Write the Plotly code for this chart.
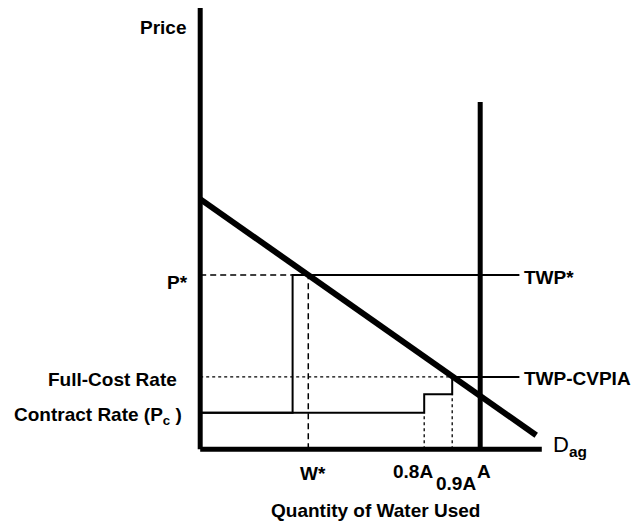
import plotly.graph_objects as go

# economic quantities (A = 100 units of water, price axis 0-100)
q_labels = ['W*', '0.8A', '0.9A', 'A']
q_values = [38.6, 80, 90, 100]

p_labels = ['P*', 'Full-Cost Rate', 'Contract Rate (P<sub>c</sub> )']
p_values = [39.5, 16.4, 8.3]

step_price = 12.5          # middle tier of the tiered contract schedule
twp_kink_q = 33            # where the TWP* schedule jumps from contract rate to P*
schedule_end_q = 114
cap_top_p = 78.7           # height of the vertical line at A

demand_q = [0, 120]
demand_p = [56.7, 3.2]

axis_max_q = 122
axis_max_p = 100

FONT = 'Liberation Sans, Arial, sans-serif'

p_star, p_full, p_contract = p_values
q_wstar, q_08, q_09, q_a = q_values

fig = go.Figure()


def add_line(xs, ys, width=2, dash='solid'):
    fig.add_trace(go.Scatter(x=xs, y=ys, mode='lines', hoverinfo='skip',
                             line={'color': 'black', 'width': width, 'dash': dash}))


# axes
add_line([0, 0], [0, axis_max_p], width=5)
add_line([0, axis_max_q], [0, 0], width=5)

# guide lines
add_line([0, twp_kink_q], [p_star, p_star], width=1.5, dash='6px,4px')
add_line([q_wstar, q_wstar], [0, p_star], width=1.5, dash='6px,4px')
add_line([0, q_09], [p_full, p_full], width=1.3, dash='dot')
add_line([q_08, q_08], [0, p_contract], width=1.3, dash='dot')
add_line([q_09, q_09], [0, step_price], width=1.3, dash='dot')

# price schedules
add_line([0, twp_kink_q, twp_kink_q, schedule_end_q], [p_contract, p_contract, p_star, p_star], width=2)
add_line([0, q_08, q_08, q_09, q_09, schedule_end_q],
         [p_contract, p_contract, step_price, step_price, p_full, p_full], width=2)

# supply limit at A and demand
add_line([q_a, q_a], [0, cap_top_p], width=5)
add_line(demand_q, demand_p, width=6)

ann = []


def label(text, x, y, xshift=0, yshift=0, xanchor='center', size=19):
    ann.append(dict(text=text, x=x, y=y, xanchor=xanchor, yanchor='middle',
                    xshift=xshift, yshift=yshift, showarrow=False,
                    font={'family': FONT, 'size': size, 'color': 'black'}))


label('<b>Price</b>', 0, axis_max_p, xshift=-12, yshift=-19, xanchor='right')
label('<b>' + p_labels[0] + '</b>', 0, p_star, xshift=-10, yshift=-7, xanchor='right')
label('<b>' + p_labels[1] + '</b>', 0, p_full, xshift=-21, yshift=-3, xanchor='right')
label('<b>' + p_labels[2] + '</b>', 0, p_contract, xshift=-16, yshift=-3.5, xanchor='right')

label('<b>' + q_labels[0] + '</b>', q_wstar, 0, xshift=5, yshift=-24)
label('<b>' + q_labels[1] + '</b>', q_08, 0, xshift=-11, yshift=-22)
label('<b>' + q_labels[2] + '</b>', q_09, 0, xshift=4, yshift=-34)
label('<b>' + q_labels[3] + '</b>', q_a, 0, xshift=4, yshift=-22)

label('<b>TWP*</b>', schedule_end_q, p_star, xshift=3, yshift=-2, xanchor='left')
label('<b>TWP-CVPIA</b>', schedule_end_q, p_full, xshift=3, yshift=-2, xanchor='left')
label('D<sub><b>ag</b></sub>', axis_max_q, 0, xshift=9, yshift=3, xanchor='left', size=22)

label('<b>Quantity of Water Used</b>', 62.5, 0, yshift=-61)

# the page adds an 8px body margin, so the plot box is shifted up/left to compensate
fig.update_layout(
    width=640, height=521,
    margin={'l': 181, 'r': 95, 't': 0, 'b': 62},
    paper_bgcolor='white', plot_bgcolor='white',
    showlegend=False,
    xaxis={'visible': False, 'range': [-4, 126]},
    yaxis={'visible': False, 'range': [-4, axis_max_p]},
    annotations=ann,
)

fig.write_html('out.html')
